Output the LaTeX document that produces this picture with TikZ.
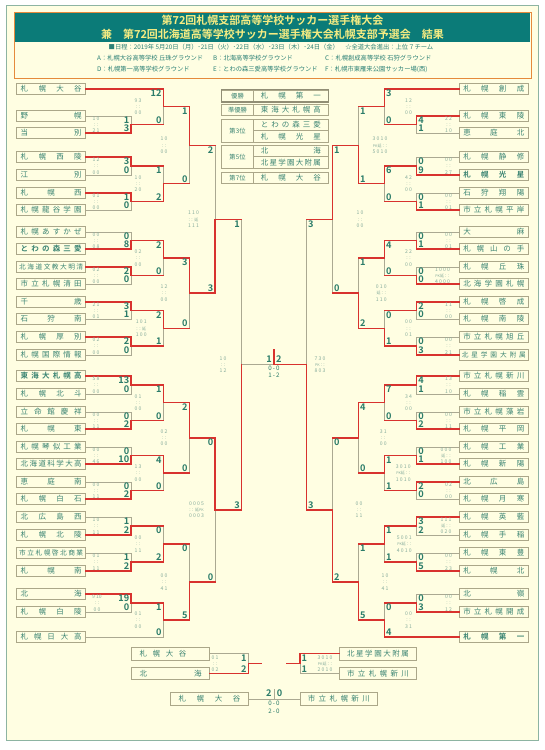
\documentclass[tikz,border=0pt]{standalone}
\usepackage{fontspec}
\setmainfont{Noto Sans CJK JP}[BoldFont={Noto Sans CJK JP Bold}]
\usetikzlibrary{positioning, calc}

\definecolor{pagebg}{HTML}{FFFEE2}
\definecolor{framec}{HTML}{8DB4A2}
\definecolor{headbg}{HTML}{0B7B78}
\definecolor{headtx}{HTML}{F6EC82}
\definecolor{orangec}{HTML}{E58A3C}
\definecolor{infotx}{HTML}{2C8176}
\definecolor{boxc}{HTML}{ABA789}
\definecolor{teamtx}{HTML}{3C8573}
\definecolor{scoretx}{HTML}{2B7C69}
\definecolor{halftx}{HTML}{86AC9C}
\definecolor{winc}{HTML}{D8322E}
\definecolor{losec}{HTML}{ABA992}

\tikzstyle{team} = [draw=boxc, line width=0.8pt, fill=pagebg, inner sep=0pt,
  minimum width=69pt, minimum height=11.5pt, text width=61pt,
  text=teamtx, font=\fontsize{7.5}{8}\selectfont]
\tikzstyle{teamb} = [team, font=\fontsize{7.5}{8}\selectfont\bfseries]
\tikzstyle{teaml} = [team, text width=64pt, font=\fontsize{6.7}{8}\selectfont]
\tikzstyle{winline} = [draw=winc, line width=1.3pt, line cap=rect]
\tikzstyle{loseline} = [draw=losec, line width=0.7pt]
\tikzstyle{score} = [inner sep=0pt, text height=6.6pt, text depth=0pt,
  text=scoretx, font=\fontsize{9.2}{10}\selectfont\bfseries]
\tikzstyle{half} = [inner sep=0pt, align=center, text=halftx, font=\fontsize{5.1}{6.2}\selectfont]
\tikzstyle{rank} = [draw=boxc, line width=0.7pt, fill=pagebg, inner sep=0pt,
  minimum width=31.6pt, text=teamtx, font=\fontsize{6.3}{7}\selectfont]
\tikzstyle{rankname} = [rank, minimum width=75pt, text width=60pt,
  minimum height=11.6pt, font=\fontsize{7.5}{8}\selectfont]
\tikzstyle{bteam} = [team, minimum width=77.5pt, minimum height=12.6pt, text width=62pt]
\tikzstyle{info} = [inner sep=0pt, text=infotx, font=\fontsize{6.3}{7}\selectfont]
\tikzstyle{title} = [inner sep=0pt, text=headtx, font=\fontsize{11}{12}\selectfont\bfseries]

% spread the letters of a name over the box
\def\spreadA#1{\ifx\relax#1\else#1\expandafter\spreadB\fi}
\def\spreadB#1{\ifx\relax#1\else\hfill#1\expandafter\spreadB\fi}
\newcommand\sname[1]{\spreadA#1\relax}
\newcommand\encho{{\fontsize{4}{4}\selectfont 延}}
\newcommand\pkmark{{\fontsize{3.6}{4}\selectfont PK}}
% match point, bracket lines (winner, loser, match), scores, half scores
\newcommand\meet[4]{\coordinate (#1) at ($(#2 -| #4)!.5!(#3 -| #4)$);}
\newcommand\bout[3]{\draw[loseline] (#2) -- (#2 -| #3) -- (#3);
  \draw[winline] (#1) -- (#1 -| #3) -- (#3);}
% loser came in on a win: its incoming line stays red
\newcommand\boutw[3]{\draw[loseline] (#2 -| #3) -- (#3);
  \draw[winline] (#2) -- (#2 -| #3);
  \draw[winline] (#1) -- (#1 -| #3) -- (#3);}
\newcommand\scl[5]{%
  \node[score, anchor=north east, xshift=-1.5pt, yshift=-1.1pt] (#3-u) at (#1 -| #3) {#4};
  \node[score, anchor=south east, xshift=-1.5pt, yshift=1.1pt] (#3-d) at (#2 -| #3) {#5};}
\newcommand\scr[5]{%
  \node[score, anchor=north west, xshift=1.5pt, yshift=-1.1pt] (#3-u) at (#1 -| #3) {#4};
  \node[score, anchor=south west, xshift=1.5pt, yshift=1.1pt] (#3-d) at (#2 -| #3) {#5};}
\newcommand\hv[5]{\node[half, xshift=#2pt] (#1-h) at (#1) {#3\\#4\\#5};}

\begin{document}
\begin{tikzpicture}[x=1pt, y=-1pt]
\useasboundingbox (0,0) rectangle (545,750);
\fill[white] (0,0) rectangle (545,750);
\draw[framec, fill=pagebg, line width=0.8pt] (6,5) rectangle (538,740);

% header
\node[draw=orangec, line width=0.9pt, fill=pagebg, minimum width=517pt, minimum height=66pt, inner sep=0pt] (hdr) at (272.5,45) {};
\node[fill=headbg, minimum width=515pt, minimum height=29pt, inner sep=0pt] (band) at (272.5,27.5) {};
\node[title] (t1) at (272.5,20.5) {第72回札幌支部高等学校サッカー選手権大会};
\node[title] (t2) at (272.5,34.5) {兼　第72回北海道高等学校サッカー選手権大会札幌支部予選会　結果};
\node[info] (i0) at (271,47.5) {■日程：2019年 5月20日（月）･21日（火）･22日（水）･23日（木）･24日（金）　☆全道大会進出：上位７チーム};
\node[info, anchor=west] (iA) at (97,58) {A：札幌大谷高等学校 丘珠グラウンド};
\node[info, anchor=west] (iB) at (213,58) {B：北海高等学校グラウンド};
\node[info, anchor=west] (iC) at (325,58) {C：札幌創成高等学校 石狩グラウンド};
\node[info, anchor=west] (iD) at (97,69) {D：札幌第一高等学校グラウンド};
\node[info, anchor=west] (iE) at (213,69) {E：とわの森三愛高等学校グラウンド};
\node[info, anchor=west] (iF) at (325,69) {F：札幌市東雁来公園サッカー場(西)};

% columns
\coordinate (cL1) at (131,0);   \coordinate (cR1) at (416.7,0);
\coordinate (cL2) at (163.3,0); \coordinate (cR2) at (384.3,0);
\coordinate (cL3) at (189.3,0); \coordinate (cR3) at (358.3,0);
\coordinate (cL4) at (215,0);   \coordinate (cR4) at (332.3,0);
\coordinate (cL5) at (241.5,0); \coordinate (cR5) at (306.3,0);

% left teams
\node[team] (L0) at (51.2,89) {\sname{札幌大谷}};
\node[team] (L1) at (51.2,116) {\sname{野幌}};
\node[team] (L2) at (51.2,133) {\sname{当別}};
\node[team] (L3) at (51.2,157) {\sname{札幌西陵}};
\node[team] (L4) at (51.2,175) {\sname{江別}};
\node[team] (L5) at (51.2,193) {\sname{札幌西}};
\node[team] (L6) at (51.2,210) {\sname{札幌龍谷学園}};
\node[team] (L7) at (51.2,232) {\sname{札幌あすかぜ}};
\node[teamb] (L8) at (51.2,249) {\sname{とわの森三愛}};
\node[teaml] (L9) at (51.2,267) {\sname{北海道文教大明清}};
\node[team] (L10) at (51.2,284) {\sname{市立札幌清田}};
\node[team] (L11) at (51.2,302) {\sname{千歳}};
\node[team] (L12) at (51.2,319) {\sname{石狩南}};
\node[team] (L13) at (51.2,337) {\sname{札幌厚別}};
\node[team] (L14) at (51.2,355) {\sname{札幌国際情報}};
\node[teamb] (L15) at (51.2,376) {\sname{東海大札幌高}};
\node[team] (L16) at (51.2,394) {\sname{札幌北斗}};
\node[team] (L17) at (51.2,412) {\sname{立命館慶祥}};
\node[team] (L18) at (51.2,429) {\sname{札幌東}};
\node[team] (L19) at (51.2,447) {\sname{札幌琴似工業}};
\node[team] (L20) at (51.2,464) {\sname{北海道科学大高}};
\node[team] (L21) at (51.2,482) {\sname{恵庭南}};
\node[team] (L22) at (51.2,499) {\sname{札幌白石}};
\node[team] (L23) at (51.2,517) {\sname{北広島西}};
\node[team] (L24) at (51.2,535) {\sname{札幌北陵}};
\node[teaml] (L25) at (51.2,553) {\sname{市立札幌啓北商業}};
\node[team] (L26) at (51.2,571) {\sname{札幌南}};
\node[team] (L27) at (51.2,594) {\sname{北海}};
\node[team] (L28) at (51.2,612) {\sname{札幌白陵}};
\node[team] (L29) at (51.2,637) {\sname{札幌日大高}};

% right teams
\node[team] (R0) at (493.8,89) {\sname{札幌創成}};
\node[team] (R1) at (493.8,116) {\sname{札幌東陵}};
\node[team] (R2) at (493.8,133) {\sname{恵庭北}};
\node[team] (R3) at (493.8,157) {\sname{札幌静修}};
\node[teamb] (R4) at (493.8,175) {\sname{札幌光星}};
\node[team] (R5) at (493.8,193) {\sname{石狩翔陽}};
\node[team] (R6) at (493.8,210) {\sname{市立札幌平岸}};
\node[team] (R7) at (493.8,232) {\sname{大麻}};
\node[team] (R8) at (493.8,249) {\sname{札幌山の手}};
\node[team] (R9) at (493.8,267) {\sname{札幌丘珠}};
\node[team] (R10) at (493.8,284) {\sname{北海学園札幌}};
\node[team] (R11) at (493.8,302) {\sname{札幌啓成}};
\node[team] (R12) at (493.8,319) {\sname{札幌南陵}};
\node[team] (R13) at (493.8,337) {\sname{市立札幌旭丘}};
\node[teaml] (R14) at (493.8,355) {\sname{北星学園大附属}};
\node[team] (R15) at (493.8,376) {\sname{市立札幌新川}};
\node[team] (R16) at (493.8,394) {\sname{札幌稲雲}};
\node[team] (R17) at (493.8,412) {\sname{市立札幌藻岩}};
\node[team] (R18) at (493.8,429) {\sname{札幌平岡}};
\node[team] (R19) at (493.8,447) {\sname{札幌工業}};
\node[team] (R20) at (493.8,464) {\sname{札幌新陽}};
\node[team] (R21) at (493.8,482) {\sname{北広島}};
\node[team] (R22) at (493.8,499) {\sname{札幌月寒}};
\node[team] (R23) at (493.8,517) {\sname{札幌英藍}};
\node[team] (R24) at (493.8,535) {\sname{札幌手稲}};
\node[team] (R25) at (493.8,553) {\sname{札幌東豊}};
\node[team] (R26) at (493.8,571) {\sname{札幌北}};
\node[team] (R27) at (493.8,594) {\sname{北嶺}};
\node[team] (R28) at (493.8,612) {\sname{市立札幌開成}};
\node[teamb] (R29) at (493.8,637) {\sname{札幌第一}};

% left match points
\meet{l1a}{L1}{L2}{cL1}   \meet{l1b}{L3}{L4}{cL1}   \meet{l1c}{L5}{L6}{cL1}
\meet{l1d}{L7}{L8}{cL1}   \meet{l1e}{L9}{L10}{cL1}  \meet{l1f}{L11}{L12}{cL1}
\meet{l1g}{L13}{L14}{cL1} \meet{l1h}{L15}{L16}{cL1} \meet{l1i}{L17}{L18}{cL1}
\meet{l1j}{L19}{L20}{cL1} \meet{l1k}{L21}{L22}{cL1} \meet{l1l}{L23}{L24}{cL1}
\meet{l1m}{L25}{L26}{cL1} \meet{l1n}{L27}{L28}{cL1}
\meet{l2a}{L0}{l1a}{cL2}  \meet{l2b}{l1b}{l1c}{cL2} \meet{l2c}{l1d}{l1e}{cL2}
\meet{l2d}{l1f}{l1g}{cL2} \meet{l2e}{l1h}{l1i}{cL2} \meet{l2f}{l1j}{l1k}{cL2}
\meet{l2g}{l1l}{l1m}{cL2} \meet{l2h}{l1n}{L29}{cL2}
\meet{l3a}{l2a}{l2b}{cL3} \meet{l3b}{l2c}{l2d}{cL3}
\meet{l3c}{l2e}{l2f}{cL3} \meet{l3d}{l2g}{l2h}{cL3}
\meet{l4a}{l3a}{l3b}{cL4} \meet{l4b}{l3c}{l3d}{cL4}
\meet{l5}{l4a}{l4b}{cL5}

% right match points
\meet{r1a}{R1}{R2}{cR1}   \meet{r1b}{R3}{R4}{cR1}   \meet{r1c}{R5}{R6}{cR1}
\meet{r1d}{R7}{R8}{cR1}   \meet{r1e}{R9}{R10}{cR1}  \meet{r1f}{R11}{R12}{cR1}
\meet{r1g}{R13}{R14}{cR1} \meet{r1h}{R15}{R16}{cR1} \meet{r1i}{R17}{R18}{cR1}
\meet{r1j}{R19}{R20}{cR1} \meet{r1k}{R21}{R22}{cR1} \meet{r1l}{R23}{R24}{cR1}
\meet{r1m}{R25}{R26}{cR1} \meet{r1n}{R27}{R28}{cR1}
\meet{r2a}{R0}{r1a}{cR2}  \meet{r2b}{r1b}{r1c}{cR2} \meet{r2c}{r1d}{r1e}{cR2}
\meet{r2d}{r1f}{r1g}{cR2} \meet{r2e}{r1h}{r1i}{cR2} \meet{r2f}{r1j}{r1k}{cR2}
\meet{r2g}{r1l}{r1m}{cR2} \meet{r2h}{r1n}{R29}{cR2}
\meet{r3a}{r2a}{r2b}{cR3} \meet{r3b}{r2c}{r2d}{cR3}
\meet{r3c}{r2e}{r2f}{cR3} \meet{r3d}{r2g}{r2h}{cR3}
\meet{r4a}{r3a}{r3b}{cR4} \meet{r4b}{r3c}{r3d}{cR4}
\meet{r5}{r4a}{r4b}{cR5}

% left bracket: winner first
\bout{L2}{L1}{l1a}   \bout{L3}{L4}{l1b}   \bout{L5}{L6}{l1c}   \bout{L8}{L7}{l1d}
\bout{L9}{L10}{l1e}  \bout{L11}{L12}{l1f} \bout{L13}{L14}{l1g} \bout{L15}{L16}{l1h}
\bout{L18}{L17}{l1i} \bout{L20}{L19}{l1j} \bout{L22}{L21}{l1k} \bout{L24}{L23}{l1l}
\bout{L26}{L25}{l1m} \bout{L27}{L28}{l1n}
\boutw{L0}{l1a}{l2a}  \boutw{l1c}{l1b}{l2b} \boutw{l1d}{l1e}{l2c} \boutw{l1f}{l1g}{l2d}
\boutw{l1h}{l1i}{l2e} \boutw{l1j}{l1k}{l2f} \boutw{l1m}{l1l}{l2g} \bout{l1n}{L29}{l2h}
\boutw{l2a}{l2b}{l3a} \boutw{l2c}{l2d}{l3b} \boutw{l2e}{l2f}{l3c} \boutw{l2h}{l2g}{l3d}
\boutw{l3b}{l3a}{l4a} \boutw{l3c}{l3d}{l4b}
\boutw{l4b}{l4a}{l5}

% right bracket: winner first
\bout{R1}{R2}{r1a}   \bout{R4}{R3}{r1b}   \bout{R6}{R5}{r1c}   \bout{R8}{R7}{r1d}
\bout{R10}{R9}{r1e}  \bout{R11}{R12}{r1f} \bout{R14}{R13}{r1g} \bout{R15}{R16}{r1h}
\bout{R18}{R17}{r1i} \bout{R20}{R19}{r1j} \bout{R21}{R22}{r1k} \bout{R23}{R24}{r1l}
\bout{R26}{R25}{r1m} \bout{R28}{R27}{r1n}
\boutw{R0}{r1a}{r2a}  \boutw{r1b}{r1c}{r2b} \boutw{r1d}{r1e}{r2c} \boutw{r1g}{r1f}{r2d}
\boutw{r1h}{r1i}{r2e} \boutw{r1j}{r1k}{r2f} \boutw{r1l}{r1m}{r2g} \boutw{R29}{r1n}{r2h}
\boutw{r2b}{r2a}{r3a} \boutw{r2d}{r2c}{r3b} \boutw{r2e}{r2f}{r3c} \boutw{r2h}{r2g}{r3d}
\boutw{r3a}{r3b}{r4a} \boutw{r3d}{r3c}{r4b}
\boutw{r4b}{r4a}{r5}

% final
\coordinate (fin) at (l5 -| 274,0);
\coordinate (cup) at (274,350);
\draw[loseline] (l5) -- (fin);
\draw[winline] (r5) -- (fin) -- (cup);
\node[score, anchor=south east] (fin-u) at ([xshift=-2pt, yshift=1.5pt]fin) {1};
\node[score, anchor=south west] (fin-d) at ([xshift=2pt, yshift=1.5pt]fin) {2};
\node[inner sep=0pt, text=scoretx, font=\fontsize{6.2}{7}\selectfont] (fin-1) at (274,368.5) {0\,-\,0};
\node[inner sep=0pt, text=scoretx, font=\fontsize{6.2}{7}\selectfont] (fin-2) at (274,375.5) {1\,-\,2};

% left scores
\scl{L1}{L2}{l1a}{1}{3}     \scl{L3}{L4}{l1b}{3}{0}     \scl{L5}{L6}{l1c}{1}{0}
\scl{L7}{L8}{l1d}{0}{8}     \scl{L9}{L10}{l1e}{2}{0}    \scl{L11}{L12}{l1f}{3}{1}
\scl{L13}{L14}{l1g}{2}{0}   \scl{L15}{L16}{l1h}{13}{0}  \scl{L17}{L18}{l1i}{0}{2}
\scl{L19}{L20}{l1j}{0}{10}  \scl{L21}{L22}{l1k}{0}{2}   \scl{L23}{L24}{l1l}{1}{2}
\scl{L25}{L26}{l1m}{1}{2}   \scl{L27}{L28}{l1n}{19}{0}
\scl{L0}{l1a}{l2a}{12}{0}   \scl{l1b}{l1c}{l2b}{1}{2}   \scl{l1d}{l1e}{l2c}{2}{0}
\scl{l1f}{l1g}{l2d}{2}{1}   \scl{l1h}{l1i}{l2e}{1}{0}   \scl{l1j}{l1k}{l2f}{4}{0}
\scl{l1l}{l1m}{l2g}{0}{2}   \scl{l1n}{L29}{l2h}{1}{0}
\scl{l2a}{l2b}{l3a}{1}{0}   \scl{l2c}{l2d}{l3b}{3}{0}
\scl{l2e}{l2f}{l3c}{2}{0}   \scl{l2g}{l2h}{l3d}{0}{5}
\scl{l3a}{l3b}{l4a}{2}{3}   \scl{l3c}{l3d}{l4b}{0}{0}
\scl{l4a}{l4b}{l5}{1}{3}

% right scores
\scr{R1}{R2}{r1a}{4}{1}     \scr{R3}{R4}{r1b}{0}{9}     \scr{R5}{R6}{r1c}{0}{1}
\scr{R7}{R8}{r1d}{0}{1}     \scr{R9}{R10}{r1e}{0}{0}    \scr{R11}{R12}{r1f}{2}{0}
\scr{R13}{R14}{r1g}{0}{3}   \scr{R15}{R16}{r1h}{4}{1}   \scr{R17}{R18}{r1i}{0}{2}
\scr{R19}{R20}{r1j}{0}{1}   \scr{R21}{R22}{r1k}{2}{0}   \scr{R23}{R24}{r1l}{3}{2}
\scr{R25}{R26}{r1m}{0}{5}   \scr{R27}{R28}{r1n}{0}{3}
\scr{R0}{r1a}{r2a}{3}{0}    \scr{r1b}{r1c}{r2b}{6}{0}   \scr{r1d}{r1e}{r2c}{4}{0}
\scr{r1f}{r1g}{r2d}{0}{1}   \scr{r1h}{r1i}{r2e}{7}{0}   \scr{r1j}{r1k}{r2f}{1}{1}
\scr{r1l}{r1m}{r2g}{1}{1}   \scr{r1n}{R29}{r2h}{0}{4}
\scr{r2a}{r2b}{r3a}{1}{1}   \scr{r2c}{r2d}{r3b}{1}{2}
\scr{r2e}{r2f}{r3c}{4}{0}   \scr{r2g}{r2h}{r3d}{1}{5}
\scr{r3a}{r3b}{r4a}{1}{0}   \scr{r3c}{r3d}{r4b}{0}{2}
\scr{r4a}{r4b}{r5}{3}{3}

% left half scores
\hv{l1a}{-35}{1 0}{: :}{2 1}   \hv{l1b}{-35}{1 2}{: :}{0 0}   \hv{l1c}{-35}{0 1}{: :}{0 0}
\hv{l1d}{-35}{0 0}{: :}{0 8}   \hv{l1e}{-35}{0 2}{: :}{0 0}   \hv{l1f}{-35}{2 1}{: :}{0 1}
\hv{l1g}{-35}{0 2}{: :}{0 0}   \hv{l1h}{-35}{5 8}{: :}{0 0}   \hv{l1i}{-35}{0 0}{: :}{1 1}
\hv{l1j}{-35}{0 0}{: :}{4 6}   \hv{l1k}{-35}{0 0}{: :}{1 1}   \hv{l1l}{-35}{1 0}{: :}{1 1}
\hv{l1m}{-35}{0 1}{: :}{1 1}   \hv{l1n}{-34}{9 10}{: :}{0 0}
\hv{l2a}{-25.3}{9 3}{: :}{0 0} \hv{l2b}{-25.3}{1 0}{: :}{2 0} \hv{l2c}{-25.3}{0 2}{: :}{0 0}
\hv{l2d}{-22}{1 0 1}{: : \encho}{1 0 0}
\hv{l2e}{-25.3}{0 1}{: :}{0 0} \hv{l2f}{-25.3}{1 3}{: :}{0 0} \hv{l2g}{-25.3}{0 0}{: :}{1 1}
\hv{l2h}{-25.3}{0 1}{: :}{0 0}
\hv{l3a}{-25.3}{1 0}{: :}{0 0} \hv{l3b}{-25.3}{1 2}{: :}{0 0}
\hv{l3c}{-25.3}{0 2}{: :}{0 0} \hv{l3d}{-25.3}{0 0}{: :}{4 1}
\hv{l4a}{-21.5}{1 1 0}{: : \encho}{1 1 1}
\hv{l4b}{-18.5}{0 0 0 5}{: : \encho\pkmark}{0 0 0 3}
\hv{l5}{-18.5}{1 0}{: :}{1 2}

% right half scores
\hv{r1a}{31.8}{2 2}{: :}{1 0}  \hv{r1b}{31.8}{0 0}{: :}{2 7}  \hv{r1c}{31.8}{0 0}{: :}{0 1}
\hv{r1d}{31.8}{0 0}{: :}{0 1}
\hv{r1e}{25.8}{1 0 0 0}{\pkmark\encho\ : :}{4 0 0 0}
\hv{r1f}{31.8}{1 1}{: :}{0 0}  \hv{r1g}{31.8}{0 0}{: :}{2 1}  \hv{r1h}{31.8}{1 3}{: :}{1 0}
\hv{r1i}{31.8}{0 0}{: :}{1 1}
\hv{r1j}{29.3}{0 0 0}{\encho\ : :}{1 0 0}
\hv{r1k}{31.8}{0 2}{: :}{0 0}
\hv{r1l}{29.3}{1 1 1}{\encho\ : :}{0 2 0}
\hv{r1m}{31.8}{0 0}{: :}{2 3}  \hv{r1n}{31.8}{0 0}{: :}{1 2}
\hv{r2a}{24.2}{1 2}{: :}{0 0}  \hv{r2b}{24.2}{4 2}{: :}{0 0}  \hv{r2c}{24.2}{2 2}{: :}{0 0}
\hv{r2d}{24.2}{0 0}{: :}{0 1}  \hv{r2e}{24.2}{3 4}{: :}{0 0}
\hv{r2f}{19}{3 0 1 0}{\pkmark\encho\ : :}{1 0 1 0}
\hv{r2g}{20}{5 0 0 1}{\pkmark\encho\ : :}{4 0 1 0}
\hv{r2h}{24.2}{0 0}{: :}{3 1}
\hv{r3a}{21.7}{3 0 1 0}{\pkmark\encho\ : :}{5 0 1 0}
\hv{r3b}{23}{0 1 0}{\encho\ : :}{1 1 0}
\hv{r3c}{25}{3 1}{: :}{0 0}    \hv{r3d}{26.7}{1 0}{: :}{4 1}
\hv{r4a}{27.7}{1 0}{: :}{0 0}  \hv{r4b}{26.7}{0 0}{: :}{1 1}
\hv{r5}{13.7}{7 3 0}{\pkmark\ : :}{8 0 3}

% ranking table
\node[rank, minimum height=11.7pt] (k1) at (237.5,95.8) {優勝};
\node[rankname, minimum height=11.7pt] (k1n) at (290.8,95.8) {\sname{札幌第一}};
\draw[boxc!85!black, line width=1.4pt] (k1.north west) rectangle (k1n.south east);
\node[rank, minimum height=11.4pt] (k2) at (237.5,110) {準優勝};
\node[rankname, minimum height=11.4pt] (k2n) at (290.8,110) {\sname{東海大札幌高}};
\node[rank, minimum height=23.3pt] (k3) at (237.5,130.7) {第3位};
\node[rankname] (k3a) at (290.8,124.9) {\sname{とわの森三愛}};
\node[rankname] (k3b) at (290.8,136.5) {\sname{札幌光星}};
\node[rank, minimum height=23.3pt] (k5) at (237.5,156.7) {第5位};
\node[rankname] (k5a) at (290.8,150.9) {\sname{北海}};
\node[rankname] (k5b) at (290.8,162.5) {\sname{北星学園大附属}};
\node[rank, minimum height=11pt] (k7) at (237.5,177.8) {第7位};
\node[rankname, minimum height=11pt] (k7n) at (290.8,177.8) {\sname{札幌大谷}};

% 5th place deciders
\node[bteam] (B1) at (170.5,653.7) {\sname{札幌大谷}\hspace*{15pt}};
\node[bteam] (B2) at (170.5,673.5) {\sname{北海}};
\node[bteam] (B3) at (378,653.7) {\sname{北星学園大附属}};
\node[bteam] (B4) at (378,673.5) {\sname{市立札幌新川}};
\coordinate (cB1) at (248.3,0);
\coordinate (cB2) at (300,0);
\meet{b5a}{B1}{B2}{cB1}
\meet{b5b}{B3}{B4}{cB2}
\bout{B2}{B1}{b5a}
\bout{B3}{B4}{b5b}
\coordinate (b5ax) at ([xshift=13.4pt]b5a);
\coordinate (b5bx) at ([xshift=-13.3pt]b5b);
\draw[winline] (b5a) -- (b5ax);
\draw[winline] (b5b) -- (b5bx);
\scl{B1}{B2}{b5a}{1}{2}
\scr{B3}{B4}{b5b}{1}{1}
\hv{b5a}{-33.3}{0 1}{: :}{0 2}
\hv{b5b}{25}{3 0 1 0}{\pkmark\encho\ : :}{2 0 1 0}

% 7th place
\node[bteam] (B5) at (209.5,699) {\sname{札幌大谷}};
\node[bteam] (B6) at (338.8,699) {\sname{市立札幌新川}};
\draw[loseline] (B5) -- (B6);
\coordinate (b7) at ($(B5.east)!.5!(B6.west)$);
\coordinate (b7t) at ([yshift=10.5pt]b7);
\draw[loseline] (b7) -- (b7t);
\node[score, anchor=south east] (b7-u) at ([xshift=-2.5pt, yshift=2.5pt]b7) {2};
\node[score, anchor=south west] (b7-d) at ([xshift=2.5pt, yshift=2.5pt]b7) {0};
\node[inner sep=0pt, text=scoretx, font=\fontsize{6.2}{7}\selectfont] (b7-1) at (274,703) {0\,-\,0};
\node[inner sep=0pt, text=scoretx, font=\fontsize{6.2}{7}\selectfont] (b7-2) at (274,711.5) {2\,-\,0};
\end{tikzpicture}
\end{document}
